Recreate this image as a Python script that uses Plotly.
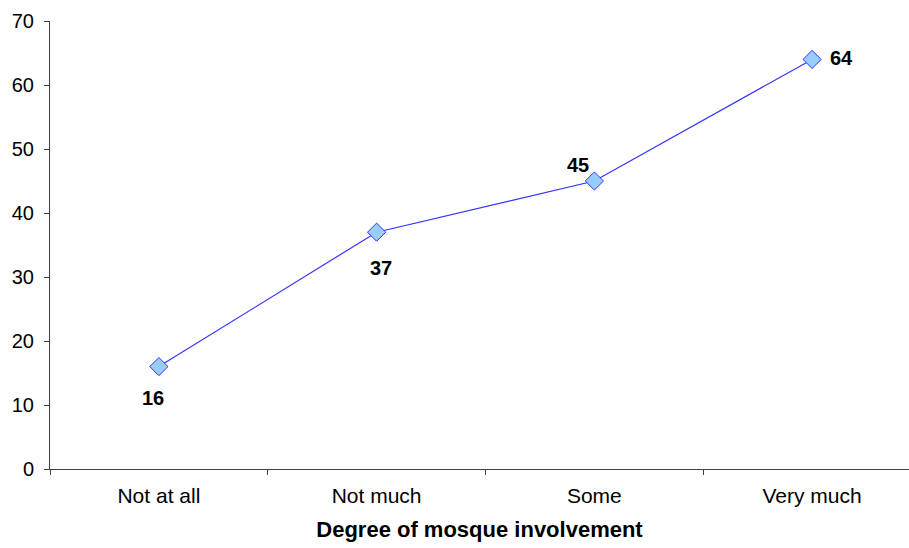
import plotly.graph_objects as go

# Share of respondents by degree of mosque involvement
categories = ["Not at all", "Not much", "Some", "Very much"]
values = [16, 37, 45, 64]

# Label offsets (pixels) relative to each point: below, below, upper-left, right
label_dx = [-6, 4, -16, 29]
label_dy = [-31, -36, 16, 1]

FONT = "Liberation Sans, Arial, sans-serif"
AXIS_COLOR = "#404040"
SIZE = 21

fig = go.Figure()
fig.add_trace(go.Scatter(
    x=categories,
    y=values,
    mode="lines+markers",
    line=dict(color="#3333FF", width=1.2),
    marker=dict(symbol="diamond", size=14, color="#99CCFF",
                line=dict(color="#3333FF", width=1)),
    hoverinfo="x+y",
    showlegend=False,
))

for cat, val, dx, dy in zip(categories, values, label_dx, label_dy):
    fig.add_annotation(
        x=cat, y=val, text=f"<b>{val}</b>", showarrow=False,
        xshift=dx, yshift=dy,
        font=dict(family=FONT, size=SIZE - 1, color="#000000"),
    )

fig.update_layout(
    width=909, height=548,
    margin=dict(l=50, r=0, t=21, b=79),
    paper_bgcolor="white", plot_bgcolor="white",
    font=dict(family=FONT, size=SIZE, color="#000000"),
)

fig.update_xaxes(
    type="category",
    categoryorder="array", categoryarray=categories,
    range=[-0.5, 3.445],
    tickson="boundaries",
    ticks="outside", ticklen=5, tickcolor=AXIS_COLOR,
    showline=True, linecolor=AXIS_COLOR, linewidth=1,
    showgrid=False, zeroline=False,
    tickfont=dict(family=FONT, size=SIZE),
    ticklabelstandoff=8,
    title=dict(text="<b>Degree of mosque involvement</b>",
               font=dict(family=FONT, size=22), standoff=15),
)

fig.update_yaxes(
    range=[0, 70], dtick=10,
    ticks="outside", ticklen=5, tickcolor=AXIS_COLOR,
    showline=True, linecolor=AXIS_COLOR, linewidth=1,
    showgrid=False, zeroline=False,
    tickfont=dict(family=FONT, size=SIZE - 1),
    ticklabelstandoff=6,
)

fig.write_html("out.html")
